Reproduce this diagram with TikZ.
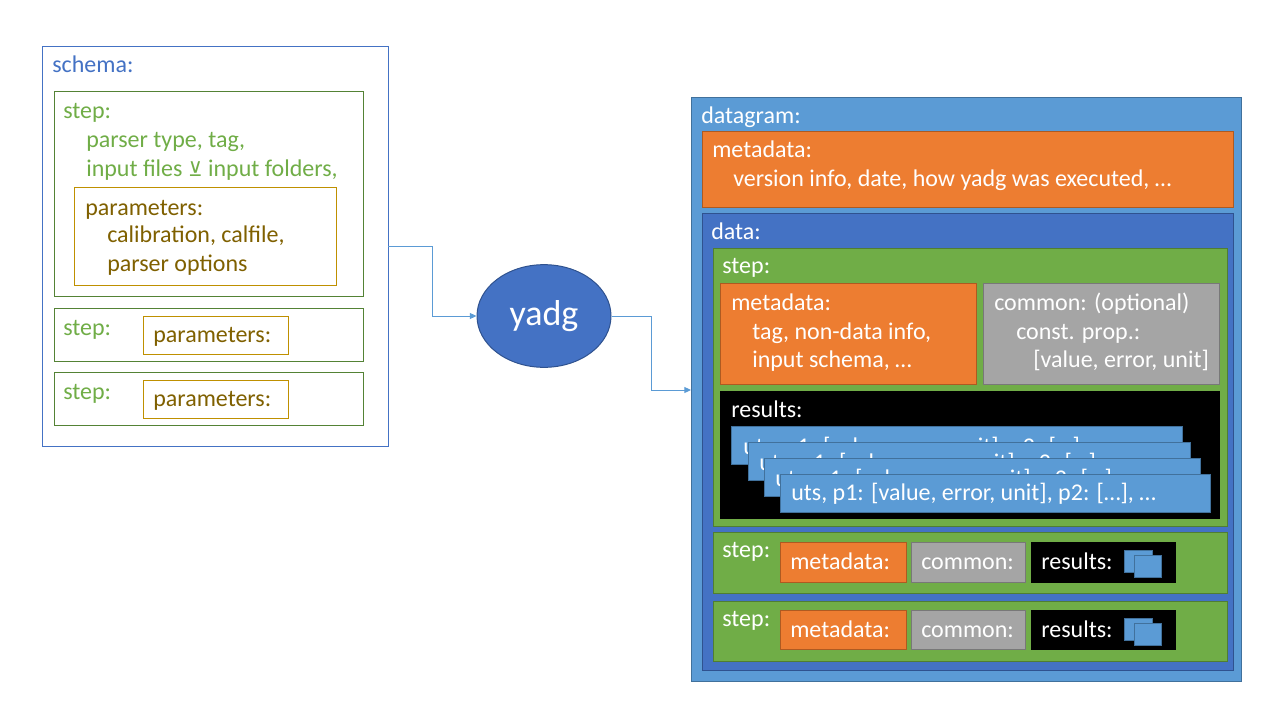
\documentclass[tikz,border=0pt]{standalone}
\usepackage{fontspec}
\setmainfont{Carlito}
\newfontfamily\djv{DejaVu Sans}
\usetikzlibrary{fit,shapes.geometric,arrows.meta}
\definecolor{cblue}{HTML}{4472C4}
\definecolor{cblueD}{HTML}{2F528F}
\definecolor{clblue}{HTML}{5B9BD5}
\definecolor{clblueD}{HTML}{41719C}
\definecolor{cgreen}{HTML}{70AD47}
\definecolor{cgreenD}{HTML}{507E32}
\definecolor{cgreenB}{HTML}{548235}
\definecolor{corange}{HTML}{ED7D31}
\definecolor{corangeD}{HTML}{AE5A21}
\definecolor{cgray}{HTML}{A5A5A5}
\definecolor{cgrayD}{HTML}{787878}
\definecolor{cgold}{HTML}{BF9000}
\definecolor{cbrown}{HTML}{7F6000}
\newcommand{\bx}[6][]{\node[fit={(#3,#4)(#5,#6)},inner sep=0pt,line width=0.75pt,#1] (#2) {};}
\tikzset{
  txt/.style={anchor=base west,inner sep=0pt,font=\fontsize{18}{21.6}\selectfont},
  wtxt/.style={txt,text=white},
  schemabox/.style={draw=cblue},
  stepbox/.style={draw=cgreenB},
  parbox/.style={draw=cgold},
  gtxt/.style={txt,text=cgreen},
  ptxt/.style={txt,text=cbrown},
  dgbox/.style={draw=clblueD,fill=clblue},
  mdbox/.style={draw=corangeD,fill=corange},
  databox/.style={draw=cblueD,fill=cblue},
  gstepbox/.style={draw=cgreenD,fill=cgreen},
  cmbox/.style={draw=cgrayD,fill=cgray},
  resbox/.style={draw=black,fill=black},
  utsbox/.style={draw=clblueD,fill=clblue},
  arr/.style={draw=clblue,line width=0.75pt,-{Triangle[length=5pt,width=4.5pt]}},
}
\begin{document}
\begin{tikzpicture}[x=0.75pt,y=-0.75pt]
\useasboundingbox (0,0) rectangle (1280,720);
% ---------------- schema ----------------
\bx[schemabox]{schema}{42}{47}{388}{446}
\node[txt,text=cblue] (schemaT) at (52,73) {schema:};
\bx[stepbox]{s1}{54}{92}{363}{296}
\node[gtxt] (s1T) at (63,119) {step:};
\node[gtxt] (s1a) at (86,148) {parser type, tag,};
\node[gtxt] (s1b) at (86,177) {input files {\djv\fontsize{15}{18}\selectfont ⊻} input folders,};
\bx[parbox]{p1}{74}{188}{336}{285}
\node[ptxt] (p1T) at (85,215) {parameters:};
\node[ptxt] (p1a) at (107,243) {calibration, calfile,};
\node[ptxt] (p1b) at (107,272) {parser options};
\bx[stepbox]{s2}{54}{308}{363}{361}
\node[gtxt] (s2T) at (63,335) {step:};
\bx[parbox]{p2}{143}{316}{288}{354}
\node[ptxt] (p2T) at (153,342) {parameters:};
\bx[stepbox]{s3}{54}{372}{363}{425}
\node[gtxt] (s3T) at (63,399) {step:};
\bx[parbox]{p3}{143}{380}{288}{418}
\node[ptxt] (p3T) at (153,406) {parameters:};
% ---------------- yadg ----------------
\node[ellipse,draw=cblueD,fill=cblue,line width=0.75pt,minimum width=100.5pt,minimum height=77pt,inner sep=0pt,text=white,font=\fontsize{27}{32}\selectfont] (yadg) at (544,316) {yadg};
\coordinate (sOut) at (388,246);
\coordinate (dIn) at (691,390);
\draw[arr] (sOut) -- (432,246) -- (432,316) -- (yadg.west);
\draw[arr] (yadg.east) -- (651,316) -- (651,390) -- (dIn);
% ---------------- datagram ----------------
\bx[dgbox]{dg}{691}{98}{1241}{681}
\node[wtxt] (dgT) at (701,124) {datagram:};
\bx[mdbox]{md}{702}{132}{1233}{208}
\node[wtxt] (mdT) at (712,158) {metadata:};
\node[wtxt] (mda) at (733,187) {version info, date, how yadg was executed, …};
\bx[databox]{data}{702}{214}{1233}{670}
\node[wtxt] (dataT) at (711,239) {data:};
% big step
\bx[gstepbox]{gs1}{713}{248}{1227}{526}
\node[wtxt] (gs1T) at (722,273) {step:};
\bx[mdbox]{gmd}{720}{283}{976}{384}
\node[wtxt] (gmdT) at (731,310) {metadata:};
\node[wtxt] (gmda) at (752,339) {tag, non-data info,};
\node[wtxt] (gmdb) at (752,367) {input schema, …};
\bx[cmbox]{gcm}{983}{283}{1219}{384}
\node[wtxt] (gcmT) at (994,310) {common: (optional)};
\node[wtxt] (gcma) at (1016,339) {const. prop.:};
\node[wtxt] (gcmb) at (1033,367) {[value, error, unit]};
\bx[resbox]{gres}{720}{391}{1219}{518}
\node[wtxt] (gresT) at (731,417) {results:};
\bx[utsbox]{u1}{731}{426}{1182}{464}
\node[wtxt] (u1T) at (743,454) {uts, p1: [value, error, unit], p2: […], …};
\bx[utsbox]{u2}{748}{442}{1190}{480}
\node[wtxt] (u2T) at (759,470) {uts, p1: [value, error, unit], p2: […], …};
\bx[utsbox]{u3}{764}{458}{1200}{496}
\node[wtxt] (u3T) at (775,486) {uts, p1: [value, error, unit], p2: […], …};
\bx[utsbox]{u4}{780}{474}{1210}{512}
\node[wtxt] (u4T) at (791,500) {uts, p1: [value, error, unit], p2: […], …};
% step 2
\bx[gstepbox]{gs2}{713}{532}{1227}{593}
\node[wtxt] (gs2T) at (722,557) {step:};
\bx[mdbox]{gs2md}{780}{542}{906}{582}
\node[wtxt] (gs2mdT) at (790,569) {metadata:};
\bx[cmbox]{gs2cm}{911}{542}{1025}{582}
\node[wtxt] (gs2cmT) at (921,569) {common:};
\bx[resbox]{gs2r}{1031}{542}{1175}{582}
\node[wtxt] (gs2rT) at (1041,569) {results:};
\bx[utsbox]{gs2i1}{1124}{550}{1152}{572}
\bx[utsbox]{gs2i2}{1134}{555}{1161}{577}
% step 3
\bx[gstepbox]{gs3}{713}{601}{1227}{661}
\node[wtxt] (gs3T) at (722,626) {step:};
\bx[mdbox]{gs3md}{780}{610}{906}{649}
\node[wtxt] (gs3mdT) at (790,637) {metadata:};
\bx[cmbox]{gs3cm}{911}{610}{1025}{649}
\node[wtxt] (gs3cmT) at (921,637) {common:};
\bx[resbox]{gs3r}{1031}{610}{1175}{649}
\node[wtxt] (gs3rT) at (1041,637) {results:};
\bx[utsbox]{gs3i1}{1124}{618}{1152}{640}
\bx[utsbox]{gs3i2}{1134}{623}{1161}{645}
\end{tikzpicture}
\end{document}
